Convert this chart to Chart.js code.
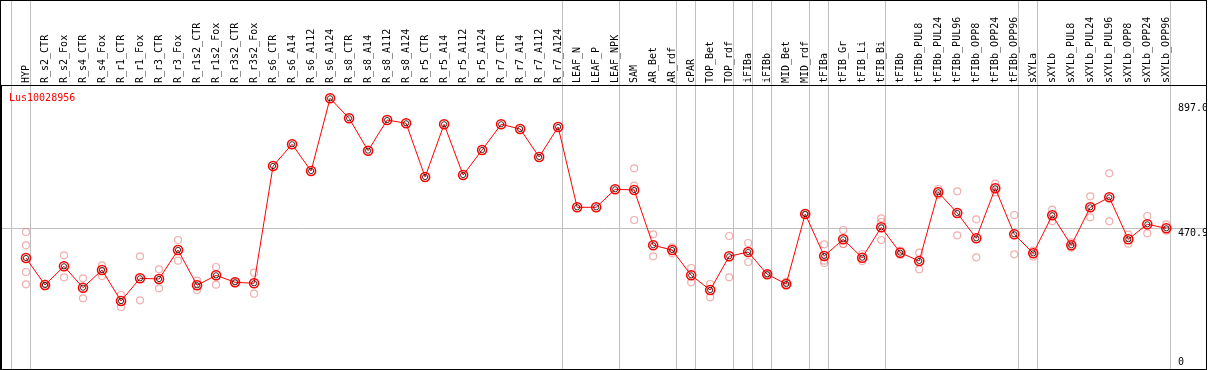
<!DOCTYPE html>
<html>
<head>
<meta charset="utf-8">
<script src="https://cdn.jsdelivr.net/npm/chart.js@4.4.1/dist/chart.umd.min.js"></script>
<style>
  html, body { margin: 0; padding: 0; background: #fff; }
  canvas { display: block; }
</style>
</head>
<body>
<canvas id="geneChart" width="1209" height="370"></canvas>
<script>
const geneName = "Lus10028956";

const samples = [
  "HYP", "R_s2_CTR", "R_s2_Fox", "R_s4_CTR", "R_s4_Fox", "R_r1_CTR", "R_r1_Fox", "R_r3_CTR", "R_r3_Fox",
  "R_r1s2_CTR", "R_r1s2_Fox", "R_r3s2_CTR", "R_r3s2_Fox",
  "R_s6_CTR", "R_s6_A14", "R_s6_A112", "R_s6_A124", "R_s8_CTR", "R_s8_A14", "R_s8_A112", "R_s8_A124",
  "R_r5_CTR", "R_r5_A14", "R_r5_A112", "R_r5_A124", "R_r7_CTR", "R_r7_A14", "R_r7_A112", "R_r7_A124",
  "LEAF_N", "LEAF_P", "LEAF_NPK",
  "SAM", "AR_Bet", "AR_rdf", "cPAR", "TOP_Bet", "TOP_rdf", "iFIBa", "iFIBb", "MID_Bet", "MID_rdf",
  "tFIBa", "tFIB_Gr", "tFIB_Li", "tFIB_Bi", "tFIBb", "tFIBb_PUL8", "tFIBb_PUL24", "tFIBb_PUL96",
  "tFIBb_OPP8", "tFIBb_OPP24", "tFIBb_OPP96",
  "sXYLa", "sXYLb", "sXYLb_PUL8", "sXYLb_PUL24", "sXYLb_PUL96", "sXYLb_OPP8", "sXYLb_OPP24", "sXYLb_OPP96"
];

// mean expression per sample (red line)
const meanExpr = [
  369.5, 277.5, 341.2, 268.3, 328.6, 222.9, 300.3, 297.9, 396.8, 276.5, 310.5, 286.7, 283.3,
  683.1, 757.1, 666.1, 913.9, 845.7, 735.3, 839.9, 828.7, 645.6, 825.3, 652.4, 737.7, 825.3, 809.2, 713.8, 816.1,
  542.3, 542.3, 603.7,
  601.3, 412.8, 396.8, 310.5, 260.4, 375.3, 390.0, 313.9, 280.9, 519.5,
  376.3, 433.3, 370.5, 474.2, 387.6, 359.3, 593.5, 522.9, 436.7, 607.1, 450.3,
  385.5, 515.1, 412.8, 542.3, 576.4, 433.3, 484.4, 470.8
];

// individual replicates (pale circles)
const replicateExpr = [
  [458.1, 412.8, 321.8, 279.9], [282.6, 272.4], [378.7, 303.7], [300.3, 232.1], [344.6, 308.2],
  [243.4, 202.5], [375.3, 225.3], [331.0, 266.2], [430.9, 360.3], [292.1, 260.4], [338.8, 278.5],
  [291.1, 283.3], [319.4, 247.8],
  [], [], [], [], [], [], [], [], [], [], [], [], [], [], [], [],
  [], [], [],
  [675.3, 616.0, 499.0], [450.3, 375.3], [406.0, 385.5], [335.4, 286.7], [280.9, 235.5],
  [444.5, 303.7], [420.6, 355.9], [316.0, 311.6], [288.7, 274.1], [522.9, 516.1],
  [416.2, 360.3, 352.5], [465.0, 417.2, 417.2], [383.1, 359.3], [504.8, 492.2, 430.9],
  [395.1, 379.7], [387.6, 331.0], [604.7, 584.3], [596.9, 446.9], [501.4, 371.9],
  [622.8, 593.5], [516.1, 382.1],
  [394.4, 373.9], [534.2, 494.6], [423.0, 404.6], [579.8, 508.3], [658.2, 494.6],
  [448.9, 418.3], [512.7, 453.7], [484.4, 462.6]
];

const yTickValues = [0, 470.9, 897.0];
// sample index after which a group separator is drawn
const groupBreaks = [-1, 0, 28, 31, 34, 35, 37, 38, 39, 41, 42, 45, 52, 53, 60];

const FONT = '"DejaVu Sans Mono", monospace';

const meanPoints = meanExpr.map((v, i) => ({ x: i, y: v }));
const repPoints = [];
replicateExpr.forEach((list, i) => {
  list.forEach(v => repPoints.push({ x: i, y: v }));
});

const decorPlugin = {
  id: 'decor',
  afterDraw(chart) {
    const ctx = chart.ctx;
    const area = chart.chartArea;
    const ys = chart.scales.y;
    ctx.save();
    ctx.strokeStyle = '#000';
    ctx.lineWidth = 1;
    ctx.strokeRect(0.5, 0.5, area.right, chart.height - 1);
    ctx.beginPath();
    ctx.moveTo(1.5, area.top);
    ctx.lineTo(1.5, area.bottom);
    ctx.stroke();

    ctx.font = '10px ' + FONT;
    ctx.textAlign = 'left';
    ctx.textBaseline = 'alphabetic';
    ctx.fillStyle = '#ff0000';
    ctx.fillText(geneName, area.left + 8, area.top + 16);

    ctx.beginPath();
    ctx.rect(0, 0, area.right, chart.height);
    ctx.clip();
    ctx.fillStyle = '#000';
    yTickValues.forEach(v => {
      const py = ys.getPixelForValue(v);
      const base = v === 0 ? py - 1 : py + 7.5;
      ctx.fillText(v === 0 ? '0' : v.toFixed(1), area.right - 28, base);
    });
    ctx.restore();
  }
};

const ctx = document.getElementById('geneChart').getContext('2d');
const geneChart = new Chart(ctx, {
  data: {
    datasets: [{
      type: 'scatter',
      data: repPoints,
      order: 3,
      pointRadius: 3.5,
      pointBorderWidth: 1.2,
      pointBorderColor: 'rgba(232,120,120,0.6)',
      pointBackgroundColor: 'rgba(0,0,0,0)'
    }, {
      type: 'line',
      data: meanPoints,
      order: 2,
      borderColor: '#ff0000',
      borderWidth: 1,
      tension: 0,
      pointRadius: 4.5,
      pointBorderWidth: 1.6,
      pointBorderColor: '#ff0000',
      pointBackgroundColor: 'rgba(0,0,0,0)'
    }, {
      type: 'scatter',
      data: meanPoints,
      order: 1,
      pointRadius: 2.6,
      pointBorderWidth: 0.8,
      pointBorderColor: '#000',
      pointBackgroundColor: 'rgba(0,0,0,0)'
    }]
  },
  options: {
    responsive: false,
    devicePixelRatio: 1,
    animation: false,
    layout: { autoPadding: false, padding: { left: 1, right: 3, top: 0, bottom: 1 } },
    plugins: {
      legend: { display: false },
      tooltip: { enabled: false }
    },
    scales: {
      x: {
        type: 'linear',
        position: 'top',
        min: -1.3155,
        max: 62.089,
        bounds: 'data',
        afterBuildTicks: (scale) => {
          const t = samples.map((s, i) => ({ value: i }));
          groupBreaks.forEach(g => t.push({ value: g + 0.24 }));
          t.sort((a, b) => a.value - b.value);
          scale.ticks = t;
        },
        afterFit: (scale) => {
          scale.height = 85;
          scale.paddingLeft = 0;
          scale.paddingRight = 0;
        },
        ticks: {
          autoSkip: false,
          minRotation: 90,
          maxRotation: 90,
          padding: -83,
          labelOffset: 12.5,
          color: '#000',
          font: { family: FONT, size: 10 },
          callback: (v) => Number.isInteger(v) ? samples[v] : ''
        },
        grid: {
          tickLength: 85,
          lineWidth: 1,
          color: (c) => (c.tick && !Number.isInteger(c.tick.value)) ? '#c0c0c0' : 'rgba(0,0,0,0)'
        },
        border: { display: true, color: '#000', width: 1 }
      },
      y: {
        type: 'linear',
        position: 'right',
        min: -8.86,
        max: 959.2,
        bounds: 'data',
        afterBuildTicks: (scale) => {
          scale.ticks = yTickValues.map(v => ({ value: v }));
        },
        afterFit: (scale) => {
          scale.width = 0;
          scale.paddingTop = 0;
          scale.paddingBottom = 0;
        },
        ticks: { display: false },
        grid: {
          drawTicks: false,
          color: (c) => (c.tick && c.tick.value === 470.9) ? '#c0c0c0' : 'rgba(0,0,0,0)'
        },
        border: { display: false }
      }
    }
  },
  plugins: [decorPlugin]
});
</script>
</body>
</html>
